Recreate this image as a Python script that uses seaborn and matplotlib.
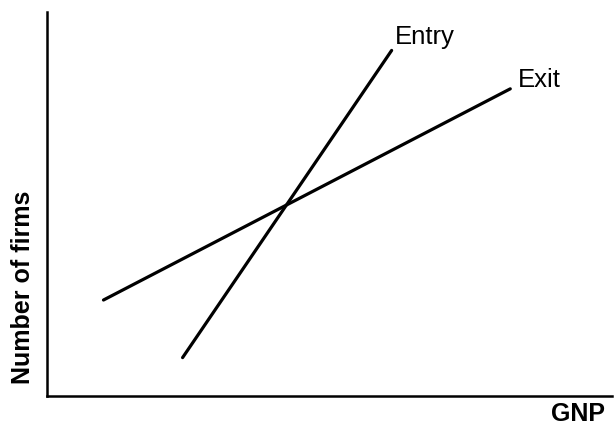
import matplotlib
matplotlib.use("Agg")
import matplotlib.pyplot as plt
import seaborn as sns
import pandas as pd

# Data (abstract units)
entry_gnp = [2.4, 6.1]
entry_firms = [1.0, 9.0]
exit_gnp = [1.0, 8.2]
exit_firms = [2.5, 8.0]
series_names = ["Entry", "Exit"]

sns.set_style("white")
plt.rcParams['font.family'] = ['Liberation Sans', 'DejaVu Sans']
plt.rcParams['text.color'] = 'black'

df = pd.DataFrame({
    "gnp": entry_gnp + exit_gnp,
    "firms": entry_firms + exit_firms,
    "curve": [series_names[0]] * 2 + [series_names[1]] * 2,
})

fig = plt.figure(figsize=(6.15, 4.25), dpi=100)
ax = fig.add_axes([0.0764, 0.0682, 0.9187, 0.9035])
sns.lineplot(data=df, x="gnp", y="firms", hue="curve", units="curve",
             estimator=None, palette=["black", "black"], linewidth=2.3,
             legend=False, ax=ax, solid_capstyle="round")
ax.set_xlim(0, 10)
ax.set_ylim(0, 10)
ax.set_xticks([])
ax.set_yticks([])
ax.set_xlabel("")
ax.set_ylabel("")
sns.despine(ax=ax)
for s in ["left", "bottom"]:
    ax.spines[s].set_linewidth(1.8)
    ax.spines[s].set_color("black")

ax.text(6.16, 9.17, series_names[0], fontsize=18.5, va="baseline", ha="left", color="black")
ax.text(8.34, 8.05, series_names[1], fontsize=18.5, va="baseline", ha="left", color="black")

fig.text(605 / 615, 1 - 402 / 425, "GNP", fontsize=18, fontweight="bold",
         ha="right", va="top", color="black")
fig.text(23 / 615, 1 - 287.5 / 425, "Number of firms", fontsize=18, fontweight="bold",
         rotation=90, ha="center", va="center", color="black")

fig.savefig("out.png", dpi=100)
